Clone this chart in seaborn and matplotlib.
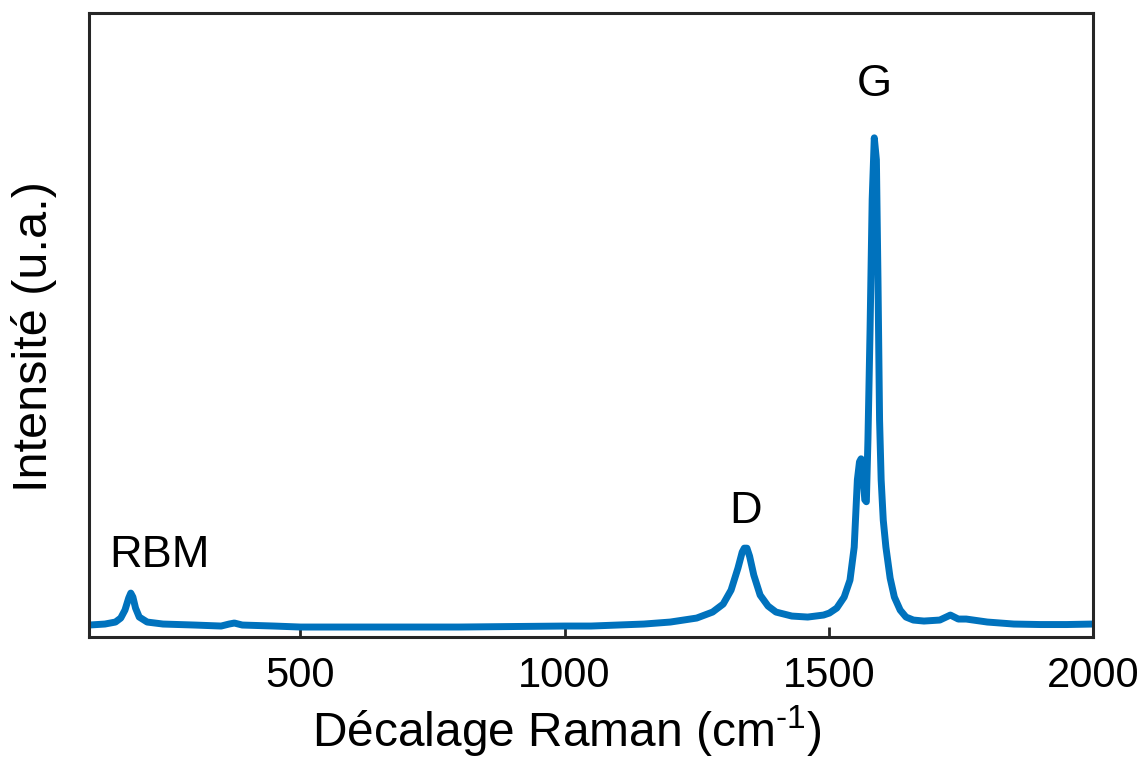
import matplotlib
matplotlib.use("Agg")
import matplotlib.pyplot as plt
import seaborn as sns
import pandas as pd

# Raman spectrum (wavenumber in cm-1, intensity in a.u., G peak = 1)
wavenumber = [100, 130, 150, 160, 168, 175, 179, 183, 188, 195, 210, 240, 300, 350, 365,
              375, 390, 450, 500, 600, 700, 800, 900, 1000, 1050, 1100, 1150, 1200, 1250,
              1280, 1300, 1315, 1328, 1336, 1340, 1345, 1350, 1358, 1370, 1385, 1400, 1430,
              1460, 1490, 1501, 1515, 1529, 1540, 1548, 1554, 1558, 1561, 1564, 1568, 1571,
              1574, 1578, 1582, 1586, 1590, 1593, 1596, 1599, 1603, 1608, 1616, 1624, 1635,
              1646, 1660, 1680, 1710, 1730, 1745, 1760, 1800, 1850, 1900, 1950, 2000]
intensity = [0.024, 0.026, 0.030, 0.038, 0.054, 0.078, 0.088, 0.080, 0.058, 0.040, 0.030,
             0.026, 0.024, 0.022, 0.026, 0.028, 0.024, 0.022, 0.020, 0.020, 0.020, 0.020,
             0.021, 0.022, 0.022, 0.024, 0.026, 0.030, 0.038, 0.050, 0.066, 0.094, 0.138,
             0.170, 0.178, 0.178, 0.162, 0.124, 0.084, 0.062, 0.050, 0.042, 0.040, 0.044,
             0.048, 0.058, 0.080, 0.114, 0.180, 0.315, 0.351, 0.357, 0.335, 0.275, 0.271,
             0.395, 0.615, 0.876, 1.000, 0.956, 0.715, 0.435, 0.315, 0.234, 0.180, 0.118,
             0.080, 0.054, 0.040, 0.034, 0.032, 0.034, 0.044, 0.036, 0.036, 0.030, 0.026,
             0.025, 0.025, 0.026]

peak_labels = ["RBM", "D", "G"]
peak_x = [234, 1342, 1586]
peak_y = [0.164, 0.251, 1.106]

x_ticks = [500, 1000, 1500, 2000]

sns.set_theme(style="white")
plt.rcParams["font.family"] = ["Liberation Sans", "DejaVu Sans"]
plt.rcParams["mathtext.fontset"] = "custom"
plt.rcParams["mathtext.rm"] = "Liberation Sans"
plt.rcParams["mathtext.it"] = "Liberation Sans"
plt.rcParams["text.color"] = "black"
plt.rcParams["axes.labelcolor"] = "black"
plt.rcParams["xtick.color"] = "black"

fig = plt.figure(figsize=(11.43, 7.58), dpi=100)
ax = fig.add_axes([0.0779, 0.1596, 0.9563 - 0.0779, 0.9828 - 0.1596])

df = pd.DataFrame({"wavenumber": wavenumber, "intensity": intensity})
sns.lineplot(data=df, x="wavenumber", y="intensity", ax=ax, color="#0072BD",
             linewidth=5, estimator=None, sort=False)

for lab, px, py in zip(peak_labels, peak_x, peak_y):
    ax.text(px, py, lab, ha="center", va="center", fontsize=32.5, color="black")

ax.set_xlim(100, 2000)
ax.set_ylim(0, 1.25)
ax.set_xticks(x_ticks)
ax.set_xticklabels([str(t) for t in x_ticks])
ax.set_yticks([])
ax.tick_params(axis="x", direction="in", length=7, width=2, color="#262626",
               labelcolor="black", labelsize=30, pad=14, top=False, bottom=True)
for sp in ax.spines.values():
    sp.set_color("#262626")
    sp.set_linewidth(2.2)
    sp.set_visible(True)

ax.set_xlabel("Décalage Raman (cm$^{\u2010\\mathregular{1}}$)", fontsize=34.5, labelpad=5,
              color="black")
ax.set_ylabel("Intensité (u.a.)", fontsize=35, labelpad=23, color="black")
ax.xaxis.label.set_x(0.476)
ax.yaxis.label.set_y(0.481)

fig.savefig("out.png", dpi=100)
